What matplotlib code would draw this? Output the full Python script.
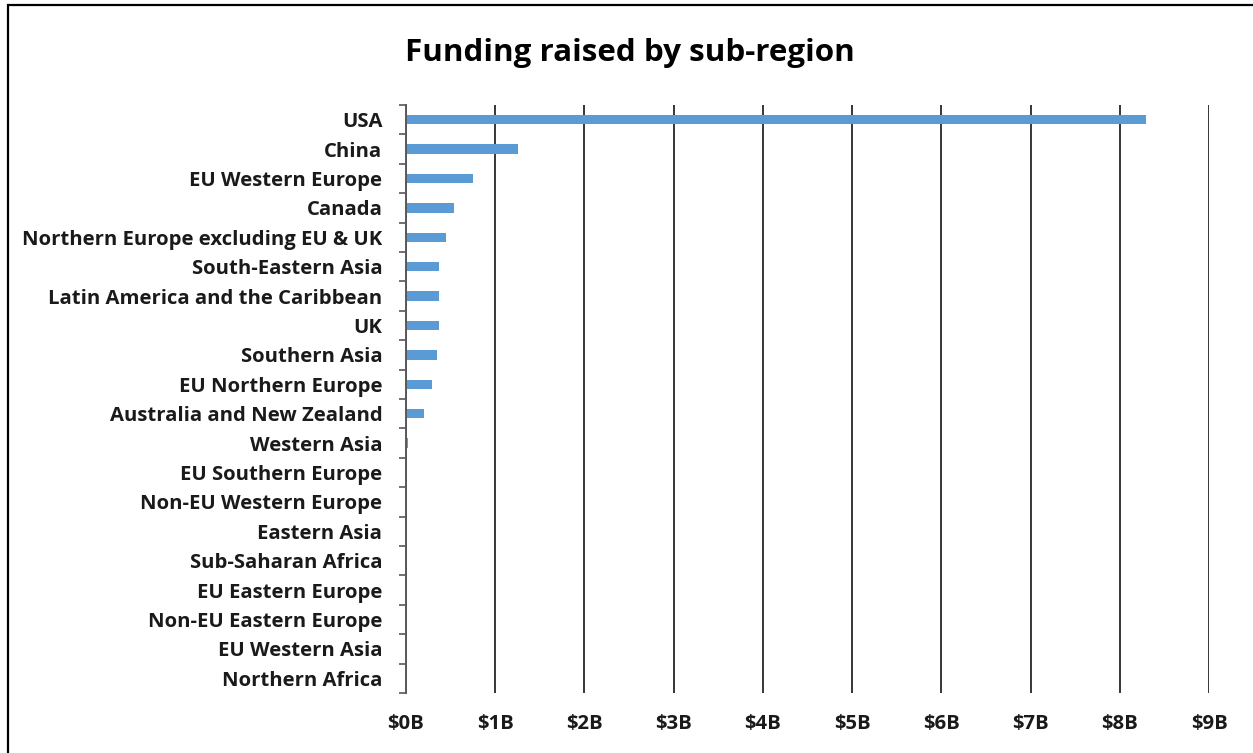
import matplotlib
matplotlib.use("Agg")
import matplotlib.pyplot as plt
from matplotlib.patches import Rectangle
from matplotlib.ticker import FuncFormatter, FixedLocator

# Funding raised per sub-region, in billions of US dollars
regions = [
    "USA", "China", "EU Western Europe", "Canada",
    "Northern Europe excluding EU & UK", "South-Eastern Asia",
    "Latin America and the Caribbean", "UK", "Southern Asia",
    "EU Northern Europe", "Australia and New Zealand", "Western Asia",
    "EU Southern Europe", "Non-EU Western Europe", "Eastern Asia",
    "Sub-Saharan Africa", "EU Eastern Europe", "Non-EU Eastern Europe",
    "EU Western Asia", "Northern Africa",
]
funding_bn = [
    8.29, 1.25, 0.755, 0.535, 0.45, 0.366, 0.366, 0.366, 0.35,
    0.295, 0.205, 0.02, 0.0, 0.0, 0.0, 0.0, 0.0, 0.0, 0.0, 0.0,
]
x_ticks = list(range(0, 10))

BAR_COLOR = "#5B9BD5"
TEXT_COLOR = "#1a1a1a"
FONT = ["Open Sans", "DejaVu Sans"]

fig = plt.figure(figsize=(12.53, 7.53), dpi=100)
ax = fig.add_axes([0.324, 0.0797, 0.641, 0.7809])

ypos = list(range(len(regions)))
ax.barh(ypos, funding_bn, height=0.32, color=BAR_COLOR, zorder=3)

ax.set_xlim(0, 9)
ax.set_ylim(len(regions) - 0.5, -0.5)

# Category labels centred on bars, tick marks between categories
ax.set_yticks(ypos)
ax.set_yticklabels(regions, fontfamily=FONT, fontweight="bold",
                   fontsize=14.6, color=TEXT_COLOR)
ax.yaxis.set_minor_locator(FixedLocator([i - 0.5 for i in range(len(regions) + 1)]))
ax.tick_params(axis="y", which="major", length=0, pad=17)
ax.tick_params(axis="y", which="minor", length=5, width=1.2, color="#595959",
               direction="out")

ax.set_xticks(x_ticks)
ax.xaxis.set_major_formatter(FuncFormatter(lambda v, _: f"${int(v)}B"))
ax.tick_params(axis="x", length=0, pad=15, labelsize=14.6, labelcolor=TEXT_COLOR)
for lbl in ax.get_xticklabels():
    lbl.set_fontfamily(FONT)
    lbl.set_fontweight("bold")

ax.grid(axis="x", color="black", linewidth=1.1, zorder=1)
ax.grid(axis="y", visible=False)
for side in ("top", "right", "bottom"):
    ax.spines[side].set_visible(False)
ax.spines["left"].set_color("#595959")
ax.spines["left"].set_linewidth(1.4)
ax.spines["left"].set_zorder(4)

fig.text(0.503, 0.929, "Funding raised by sub-region", ha="center", va="center",
         fontfamily=FONT, fontweight="bold", fontsize=22.6, color="black")

# Chart frame
fig.patches.append(Rectangle((8 / 1253, -0.05), 1.2, 1.05 - 5 / 753,
                             transform=fig.transFigure, fill=False,
                             edgecolor="black", linewidth=1.6, zorder=0))

fig.savefig("out.png", dpi=100)
